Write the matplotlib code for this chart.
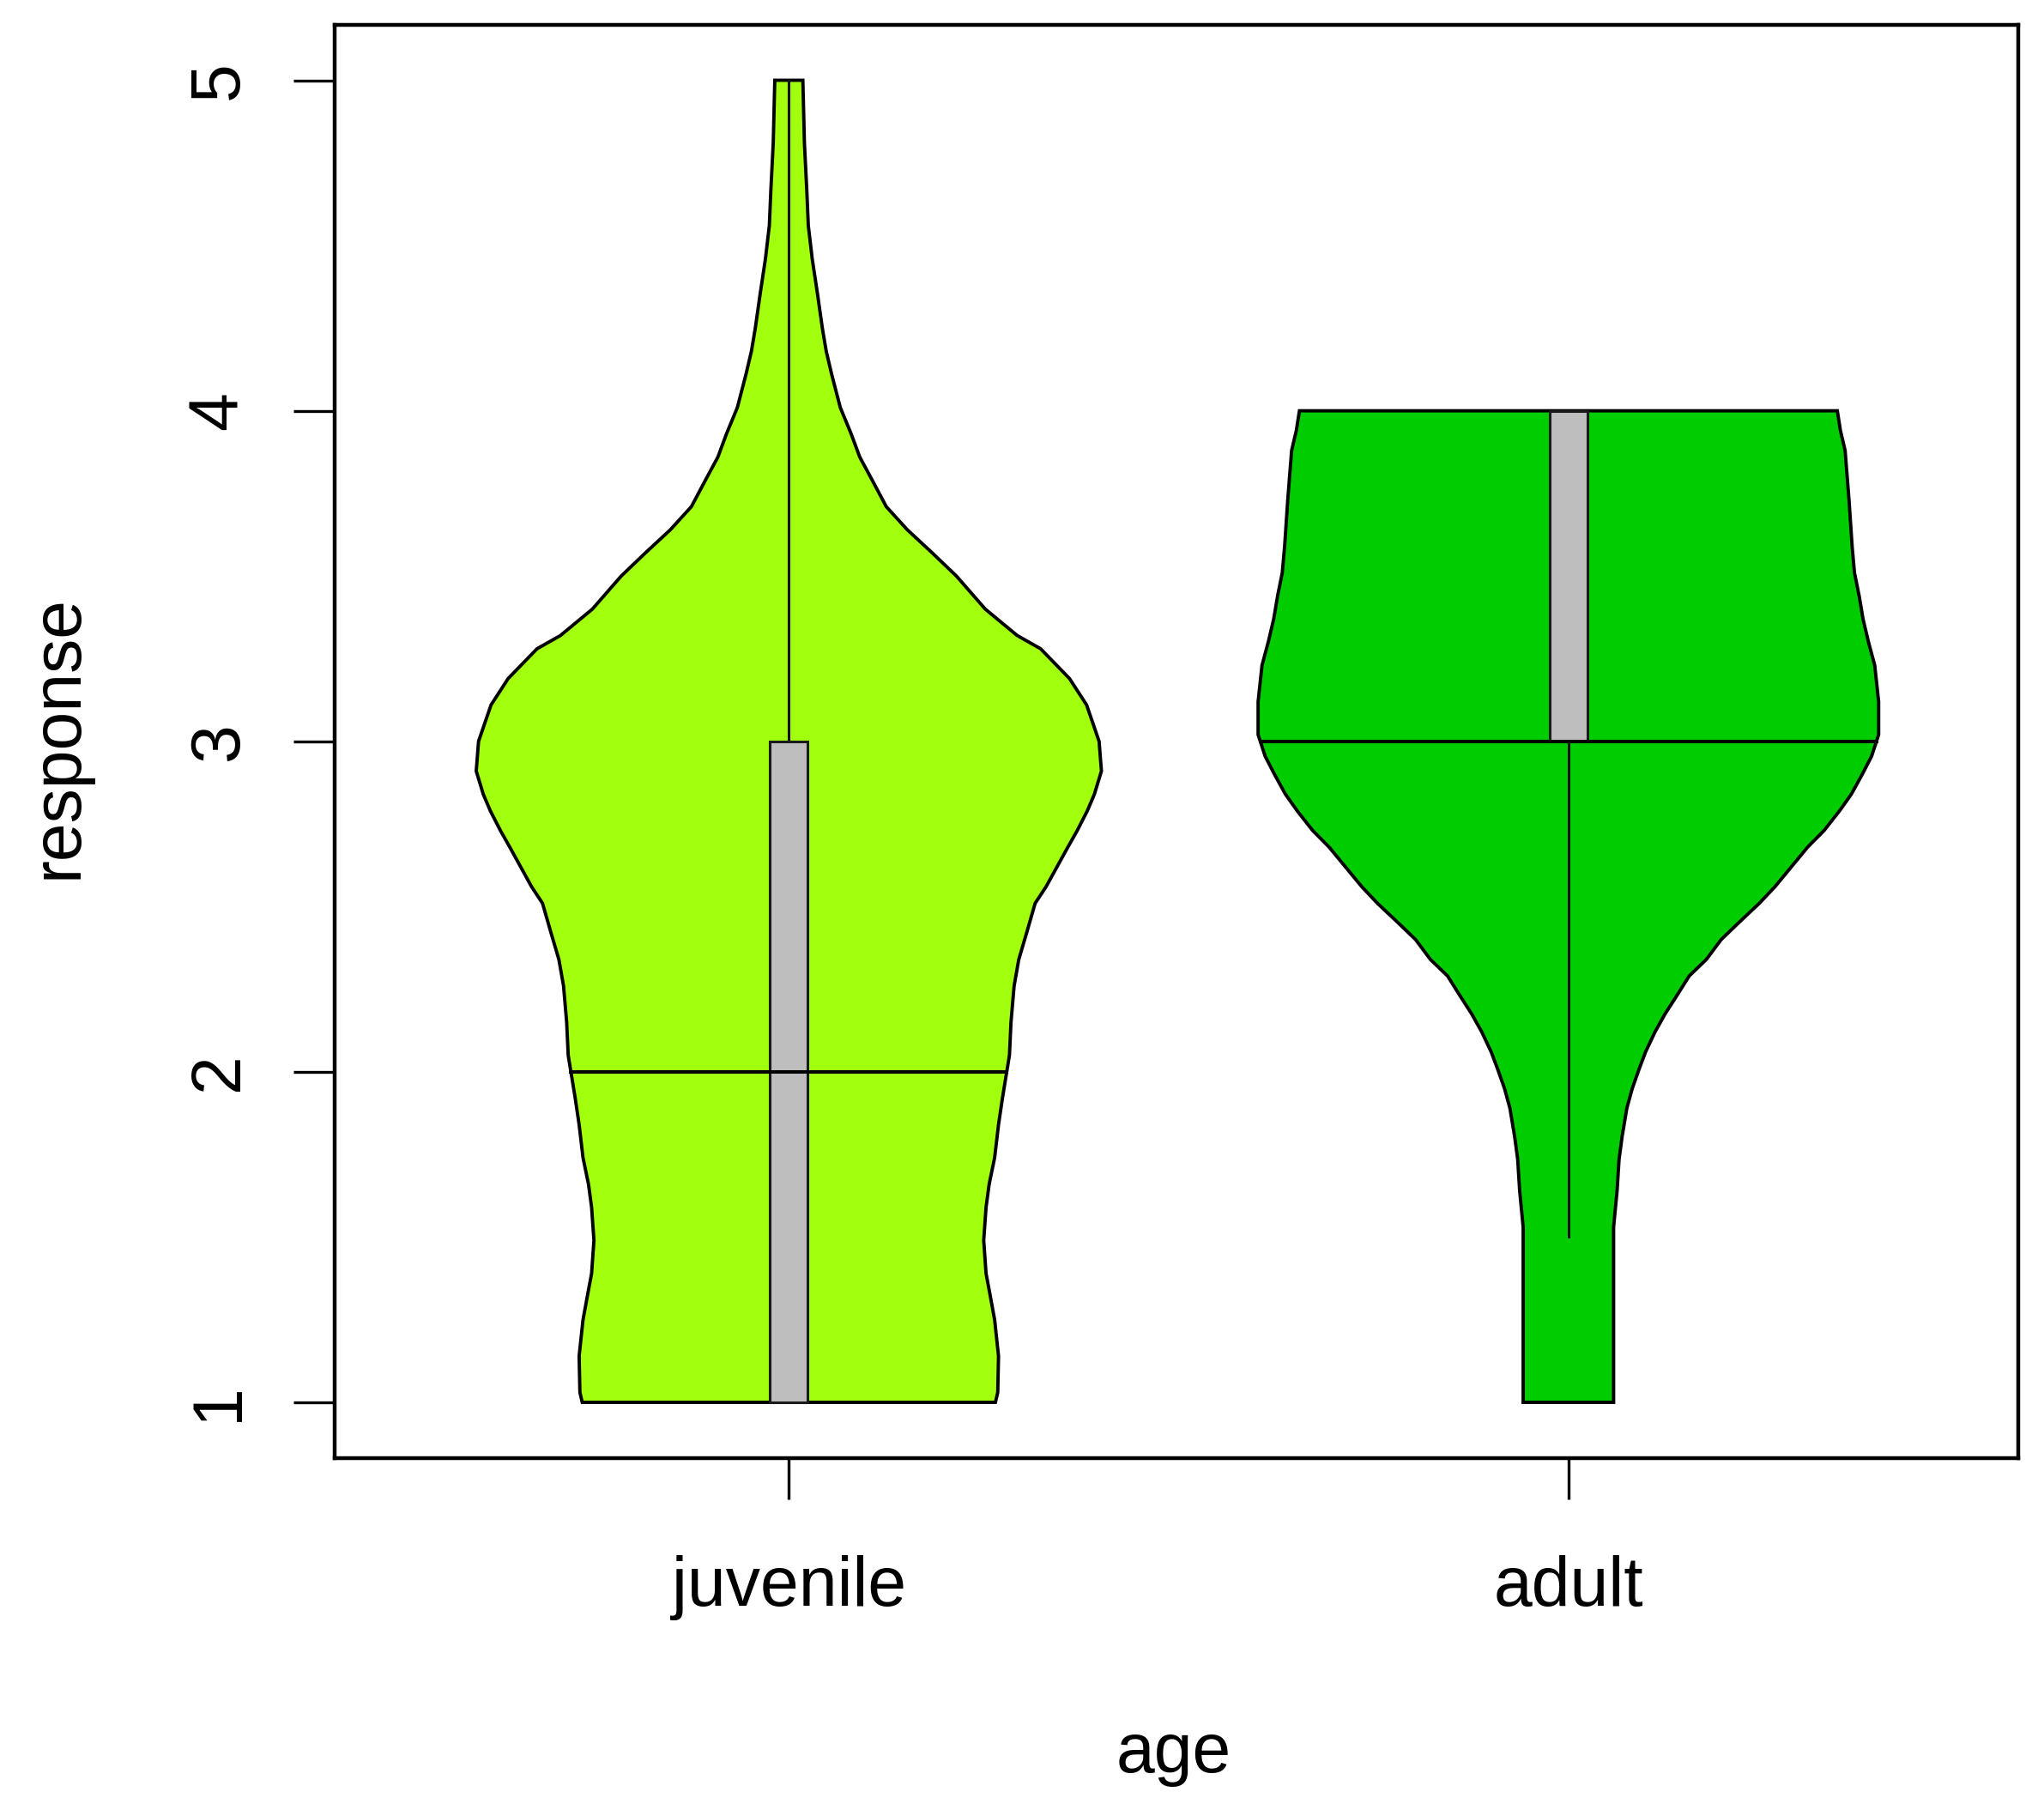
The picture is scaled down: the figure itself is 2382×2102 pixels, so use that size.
import numpy as np
from matplotlib import pyplot as plt

##################
# data
##################
groups = ['juvenile', 'adult']
colors = ['#A2FF0E', '#00CD00']

# violin outline: response value and half width (in x units)
juv_y = [5.00, 4.81, 4.67, 4.56, 4.46, 4.35, 4.25, 4.18, 4.11, 4.01, 3.93, 3.86, 3.79, 3.71,
         3.64, 3.57, 3.50, 3.40, 3.32, 3.28, 3.19, 3.11, 3.00, 2.91, 2.84, 2.79, 2.73, 2.68,
         2.62, 2.56, 2.51, 2.42, 2.34, 2.26, 2.15, 2.05, 1.92, 1.84, 1.74, 1.66, 1.59, 1.49,
         1.39, 1.34, 1.25, 1.14, 1.03, 1.00]
juv_hw = [0.018, 0.020, 0.023, 0.025, 0.030, 0.037, 0.043, 0.048, 0.055, 0.066, 0.080, 0.091, 0.107, 0.125,
          0.152, 0.184, 0.215, 0.252, 0.293, 0.323, 0.360, 0.382, 0.398, 0.401, 0.392, 0.383, 0.370, 0.358,
          0.344, 0.330, 0.316, 0.305, 0.295, 0.289, 0.285, 0.283, 0.274, 0.269, 0.264, 0.257, 0.253, 0.250,
          0.253, 0.257, 0.264, 0.269, 0.268, 0.265]

adu_y = [4.00, 3.94, 3.88, 3.73, 3.59, 3.51, 3.44, 3.37, 3.30, 3.23, 3.12, 3.02, 2.955, 2.90,
         2.84, 2.79, 2.73, 2.68, 2.62, 2.56, 2.51, 2.45, 2.40, 2.34, 2.29, 2.23, 2.175, 2.12,
         2.06, 2.01, 1.95, 1.89, 1.805, 1.735, 1.64, 1.53, 1.25, 1.00]
adu_hw = [0.345, 0.349, 0.355, 0.360, 0.364, 0.367, 0.373, 0.378, 0.385, 0.393, 0.398, 0.398, 0.389, 0.377,
          0.363, 0.348, 0.328, 0.307, 0.286, 0.265, 0.245, 0.218, 0.196, 0.177, 0.155, 0.139, 0.124, 0.111,
          0.099, 0.091, 0.082, 0.075, 0.069, 0.065, 0.0625, 0.058, 0.058, 0.058]

# box stats
q1 = [1.0, 3.0]
med = [2.0, 3.0]
q3 = [3.0, 4.0]
wlo = [1.0, 1.5]
whi = [5.0, 3.0]

yticks = [1, 2, 3, 4, 5]

##################
# plot
##################
plt.rcParams['font.family'] = ['Liberation Sans', 'DejaVu Sans']
fs = 58

fig = plt.figure(figsize=(23.82, 21.02), dpi=100)
ax = fig.add_axes([390 / 2382, 1 - 1698.7 / 2102, (2352 - 390) / 2382, (1698.7 - 29) / 2102])

outlines = [(juv_y, juv_hw), (adu_y, adu_hw)]
for i, (y, hw) in enumerate(outlines):
    pos = i + 1
    y = np.array(y)
    hw = np.array(hw)
    xs = np.concatenate([pos - hw, (pos + hw)[::-1]])
    ys = np.concatenate([y, y[::-1]])
    ax.fill(xs, ys, facecolor=colors[i], edgecolor='black', linewidth=2.8, joinstyle='miter', zorder=2)
    # whiskers
    ax.plot([pos, pos], [q3[i], whi[i]], color='#111111', linewidth=2.2, zorder=3)
    ax.plot([pos, pos], [wlo[i], q1[i]], color='#111111', linewidth=2.2, zorder=3)
    # box
    bw = 0.024
    ax.fill([pos - bw, pos + bw, pos + bw, pos - bw], [q1[i], q1[i], q3[i], q3[i]],
            facecolor='#BEBEBE', edgecolor='#1a1a1a', linewidth=2.2, zorder=4)
    # median line across the violin
    m_hw = np.interp(med[i], y[::-1], hw[::-1])
    ax.plot([pos - m_hw, pos + m_hw], [med[i], med[i]], color='black', linewidth=2.9, zorder=5)

ax.set_xlim(0.4174, 2.5771)
ax.set_ylim(0.832, 5.1675)

for s in ax.spines.values():
    s.set_linewidth(3.2)

ax.set_xticks([1, 2])
ax.set_xticklabels(groups, fontsize=fs)
ax.set_yticks(yticks)
ax.set_yticklabels([str(t) for t in yticks], fontsize=fs)
ax.tick_params(axis='both', length=34.5, width=2.4)
ax.tick_params(axis='x', pad=89.3)
ax.tick_params(axis='y', pad=46.8)
plt.setp(ax.get_xticklabels(), va='baseline')
plt.setp(ax.get_yticklabels(), rotation=90, rotation_mode='anchor', ha='center', va='baseline')

fig.text(1368 / 2382, 1 - 2065 / 2102, 'age', fontsize=fs, ha='center', va='baseline')
fig.text(90 / 2382, 1 - 859 / 2102, 'response', fontsize=fs, rotation=90,
         rotation_mode='anchor', ha='center', va='baseline')

plt.savefig('out.png', dpi=100)
